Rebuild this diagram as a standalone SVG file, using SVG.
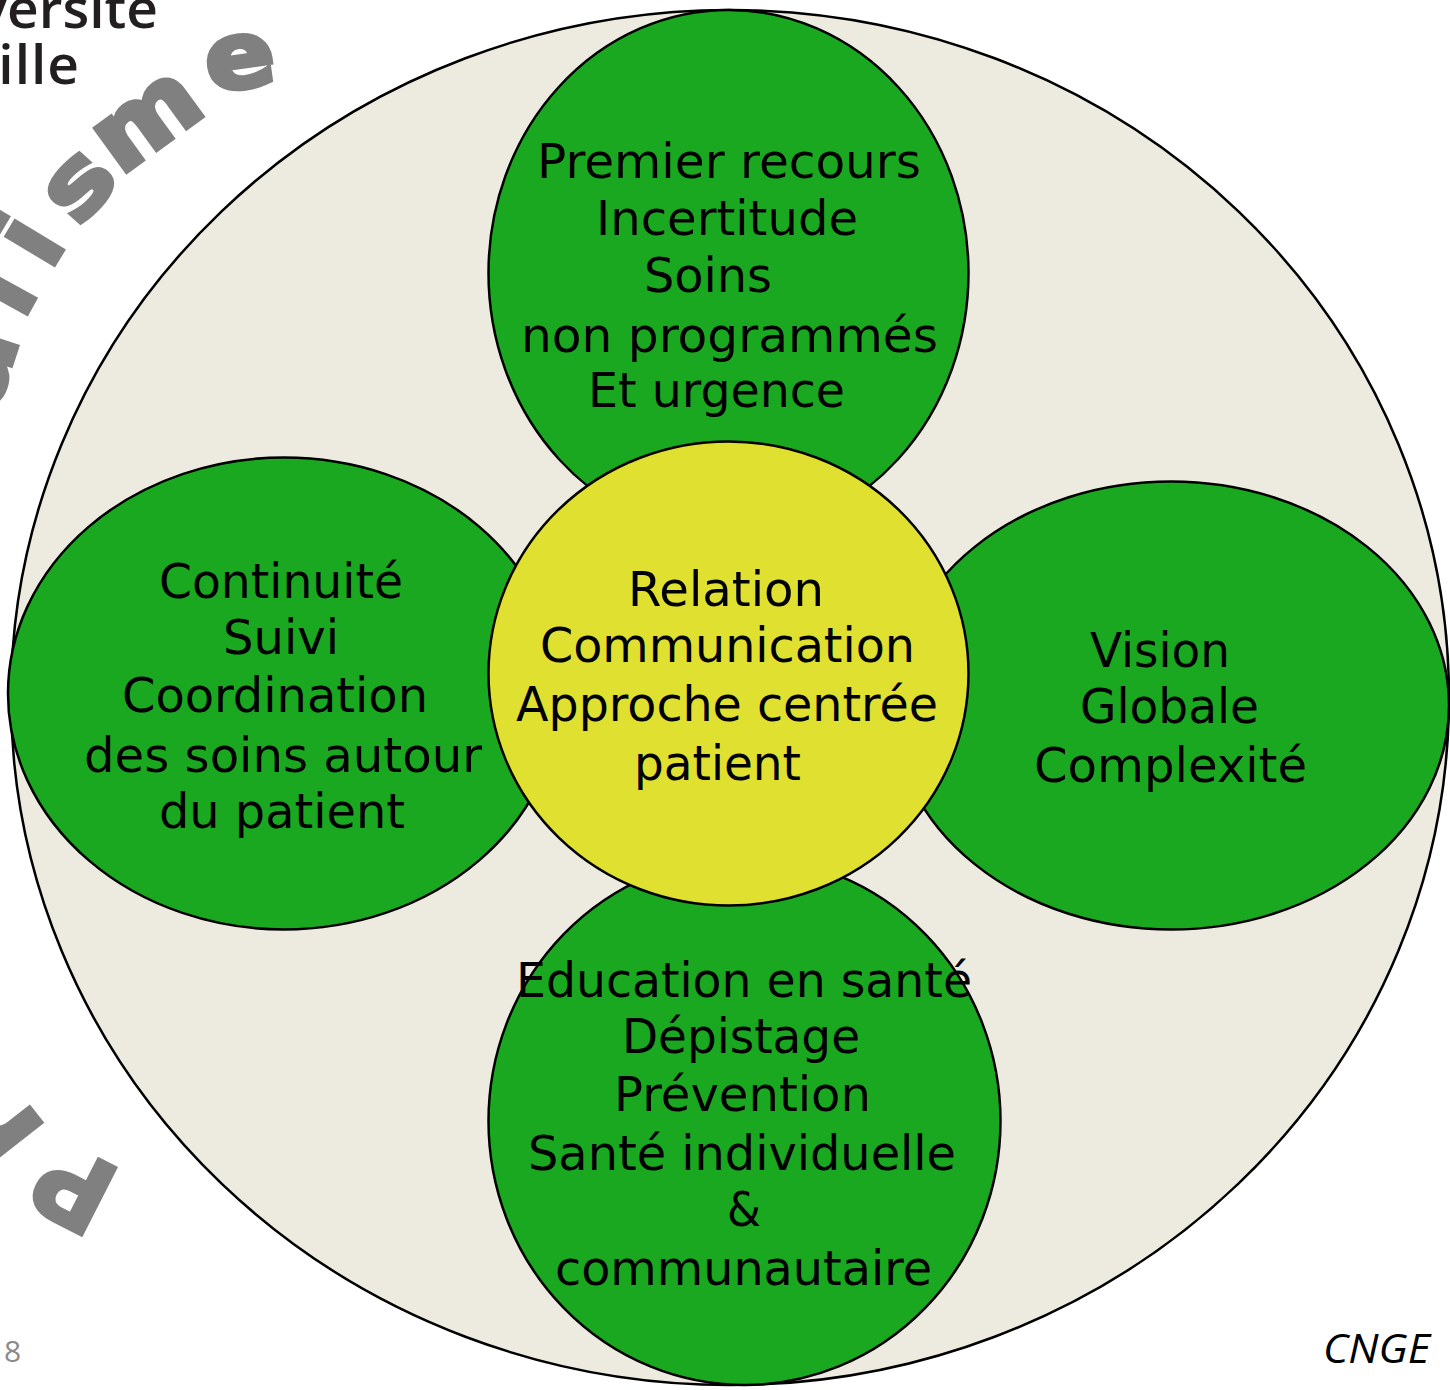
<svg xmlns="http://www.w3.org/2000/svg" width="1450" height="1390" viewBox="0 0 1450 1390">
<style>
.n{stroke:#000;stroke-width:2.5}
.g{fill:#1aa820}
.t{font-family:"DejaVu Sans",Verdana,sans-serif;font-size:48px;fill:#000}
.w{font-family:"DejaVu Sans",sans-serif;font-weight:700;font-size:104px;fill:#808080;stroke:#808080;stroke-width:3}
.s{font-size:92px;stroke-width:5}
.l{font-family:"Open Sans",sans-serif;font-weight:600;font-size:55px;fill:#231f20}
</style>
<rect width="1450" height="1390" fill="#fff"/>
<g id="background-text">
<text class="l" x="158" y="28" text-anchor="end">versité</text>
<text class="l" x="80" y="84" text-anchor="end" letter-spacing="1">Lille</text>
<text class="w" transform="translate(124.5 1172) rotate(-153)">P</text>
<text class="w" transform="translate(48 1130) rotate(-128) scale(1.1 1)">r</text>
<text class="w" transform="translate(-4 414) rotate(-72) scale(1.15 1)">a</text>
<text class="w" transform="translate(23 322) rotate(-61)">l</text>
<text class="w" transform="translate(50 273) rotate(-59)">i</text>
<text class="w s" transform="translate(78 228) rotate(-48) scale(1.18 1)">s</text>
<text class="w s" transform="translate(120 176) rotate(-36) scale(1.14 1.05)">m</text>
<text class="w s" transform="translate(209 92) rotate(-8) scale(1.12 1)">e</text>
<text x="-11 4" y="1362" font-family="'Open Sans',sans-serif" font-size="30" fill="#8a8a8a">18</text>
</g>
<g id="outer"><ellipse class="n" cx="730" cy="697.5" rx="719" ry="687.5" fill="#edeae0"/></g>
<g id="top" >
<ellipse class="n g" cx="728.5" cy="273" rx="240" ry="263"/>
<text class="t" x="537" y="177.500" textLength="384" lengthAdjust="spacingAndGlyphs">Premier recours</text>
<text class="t" x="596" y="234.500" textLength="262" lengthAdjust="spacingAndGlyphs">Incertitude</text>
<text class="t" x="644" y="291.500" textLength="128" lengthAdjust="spacingAndGlyphs">Soins</text>
<text class="t" x="521" y="351.500" textLength="417" lengthAdjust="spacingAndGlyphs">non programmés</text>
<text class="t" x="588" y="406.500" textLength="257" lengthAdjust="spacingAndGlyphs">Et urgence</text>
</g>
<g id="left">
<ellipse class="n g" cx="284" cy="693.5" rx="276" ry="236"/>
<text class="t" x="159" y="597.500" textLength="244" lengthAdjust="spacingAndGlyphs">Continuité</text>
<text class="t" x="223" y="653.500" textLength="116" lengthAdjust="spacingAndGlyphs">Suivi</text>
<text class="t" x="122" y="711.500" textLength="306" lengthAdjust="spacingAndGlyphs">Coordination</text>
<text class="t" x="84" y="771.500" textLength="398" lengthAdjust="spacingAndGlyphs">des soins autour</text>
<text class="t" x="159" y="827.500" textLength="246" lengthAdjust="spacingAndGlyphs">du patient</text>
</g>
<g id="right">
<ellipse class="n g" cx="1171" cy="705.500" rx="278" ry="224"/>
<text class="t" x="1090" y="666.500" textLength="140" lengthAdjust="spacingAndGlyphs">Vision</text>
<text class="t" x="1080" y="722.500" textLength="179" lengthAdjust="spacingAndGlyphs">Globale</text>
<text class="t" x="1034" y="781.500" textLength="273" lengthAdjust="spacingAndGlyphs">Complexité</text>
</g>
<g id="bottom">
<ellipse class="n g" cx="744.5" cy="1121" rx="256" ry="264"/>
<text class="t" x="516" y="996.500" textLength="456" lengthAdjust="spacingAndGlyphs">Education en santé</text>
<text class="t" x="622" y="1052.500" textLength="238" lengthAdjust="spacingAndGlyphs">Dépistage</text>
<text class="t" x="614" y="1110.500" textLength="257" lengthAdjust="spacingAndGlyphs">Prévention</text>
<text class="t" x="528" y="1169.500" textLength="428" lengthAdjust="spacingAndGlyphs">Santé individuelle</text>
<text class="t" x="727" y="1225.500" textLength="34" lengthAdjust="spacingAndGlyphs">&amp;</text>
<text class="t" x="555" y="1284.500" textLength="377" lengthAdjust="spacingAndGlyphs">communautaire</text>
</g>
<g id="center">
<ellipse class="n" cx="728.5" cy="673.5" rx="240" ry="232" fill="#e0e030"/>
<text class="t" x="628" y="605.500" textLength="196" lengthAdjust="spacingAndGlyphs">Relation</text>
<text class="t" x="540" y="661.500" textLength="375" lengthAdjust="spacingAndGlyphs">Communication</text>
<text class="t" x="516" y="720.500" textLength="422" lengthAdjust="spacingAndGlyphs">Approche centrée</text>
<text class="t" x="634" y="779.500" textLength="167" lengthAdjust="spacingAndGlyphs">patient</text>
</g>
<g id="credit"><text x="1323" y="1363" font-family="'Open Sans',sans-serif" font-style="italic" font-size="41" fill="#000" textLength="107" lengthAdjust="spacingAndGlyphs">CNGE</text></g>
<g id="connectors"/>
</svg>
